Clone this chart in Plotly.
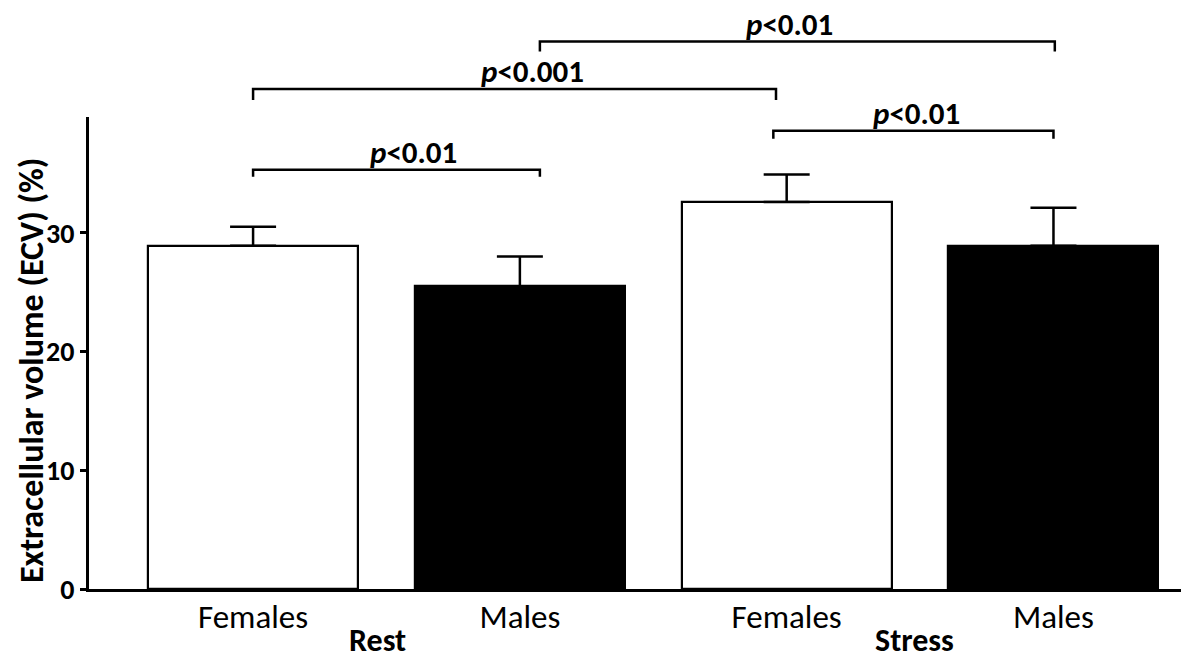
import plotly.graph_objects as go

# ECV by sex, at rest and under stress (mean and upper SD)
conditions = ["Rest", "Rest", "Stress", "Stress"]
sexes = ["Females", "Males", "Females", "Males"]
ecv_mean = [28.9, 25.5, 32.6, 28.9]
ecv_sd = [1.6, 2.5, 2.3, 3.2]
bar_fill = ["white", "black", "white", "black"]

# pairwise comparisons: (from x, to x, bracket height, label)
comp_from = [0.0, 0.0, 1.95, 1.075]
comp_to = [1.075, 1.96, 3.0, 3.005]
comp_level = [35.3, 42.1, 38.6, 46.1]
comp_label = ["p<0.01", "p<0.001", "p<0.01", "p<0.01"]

FONT = "Carlito, Lato, sans-serif"
X_RANGE = [-0.615, 3.478]
Y_RANGE = [0, 39.75]
ML, MR, MT, MB = 89, 0, 117, 73
W, H = 1181, 662
plot_h = H - MT - MB

xs = list(range(len(ecv_mean)))

fig = go.Figure()
fig.add_trace(go.Bar(
    x=xs,
    y=ecv_mean,
    width=0.787,
    marker=dict(color=bar_fill, line=dict(color="black", width=2.2)),
    error_y=dict(type="data", array=ecv_sd, arrayminus=[0] * len(ecv_sd),
                 symmetric=False, color="black", thickness=2.5, width=23),
    showlegend=False,
))


def xp(x):
    return (x - X_RANGE[0]) / (X_RANGE[1] - X_RANGE[0])


def yp(y):
    return (y - Y_RANGE[0]) / (Y_RANGE[1] - Y_RANGE[0])


tick_drop = [7, 11, 8, 10]  # px length of the bracket legs
text_pos = [0.600, 1.046, 2.485, 2.009]
shapes = []
annotations = []
for a, b, lvl, lab, drop, tx in zip(comp_from, comp_to, comp_level, comp_label,
                                    tick_drop, text_pos):
    y_top = yp(lvl)
    y_bot = y_top - drop / plot_h
    shapes.append(dict(
        type="path", xref="paper", yref="paper",
        path=f"M {xp(a)} {y_bot} L {xp(a)} {y_top} L {xp(b)} {y_top} L {xp(b)} {y_bot}",
        line=dict(color="black", width=2.5),
    ))
    num = lab[1:]
    annotations.append(dict(
        x=tx, xref="x", y=y_top + 18 / plot_h, yref="paper",
        text=f"<b><i>p</i>{num.replace('<', '&lt;')}</b>",
        showarrow=False, xanchor="center", yanchor="middle",
        font=dict(family=FONT, size=31, color="black"),
    ))

# group labels under the category labels, resting on the bottom edge
for label, gx in [("Rest", 0.465), ("Stress", 2.48)]:
    annotations.append(dict(
        x=gx, xref="x", y=-MB / plot_h, yref="paper",
        text=f"<b>{label}</b>", showarrow=False,
        xanchor="center", yanchor="bottom",
        font=dict(family=FONT, size=32, color="black"),
    ))

# y-axis title
annotations.append(dict(
    x=(31 - ML) / (W - ML - MR), xref="paper", y=(H - MB - 371) / plot_h, yref="paper",
    text="<b>Extracellular volume (ECV) (%)</b>", textangle=-90,
    showarrow=False, xanchor="center", yanchor="middle",
    font=dict(family=FONT, size=34, color="black"),
))

fig.update_layout(
    width=W, height=H,
    margin=dict(l=ML, r=MR, t=MT, b=MB, pad=0),
    paper_bgcolor="white", plot_bgcolor="white",
    shapes=shapes, annotations=annotations,
    bargap=0,
)
fig.update_xaxes(
    range=X_RANGE, tickvals=xs, ticktext=sexes,
    showline=True, linecolor="black", linewidth=3,
    ticks="", showgrid=False, zeroline=False, ticklabelstandoff=-4,
    tickfont=dict(family=FONT, size=33, color="black"),
)
fig.update_yaxes(
    range=Y_RANGE, tickvals=[0, 10, 20, 30],
    showline=True, linecolor="black", linewidth=3,
    ticks="outside", ticklen=6, tickwidth=2.5, tickcolor="black",
    showgrid=False, zeroline=False,
    tickfont=dict(family=FONT, size=28, color="black", weight="bold"),
)

fig.write_html("out.html")
